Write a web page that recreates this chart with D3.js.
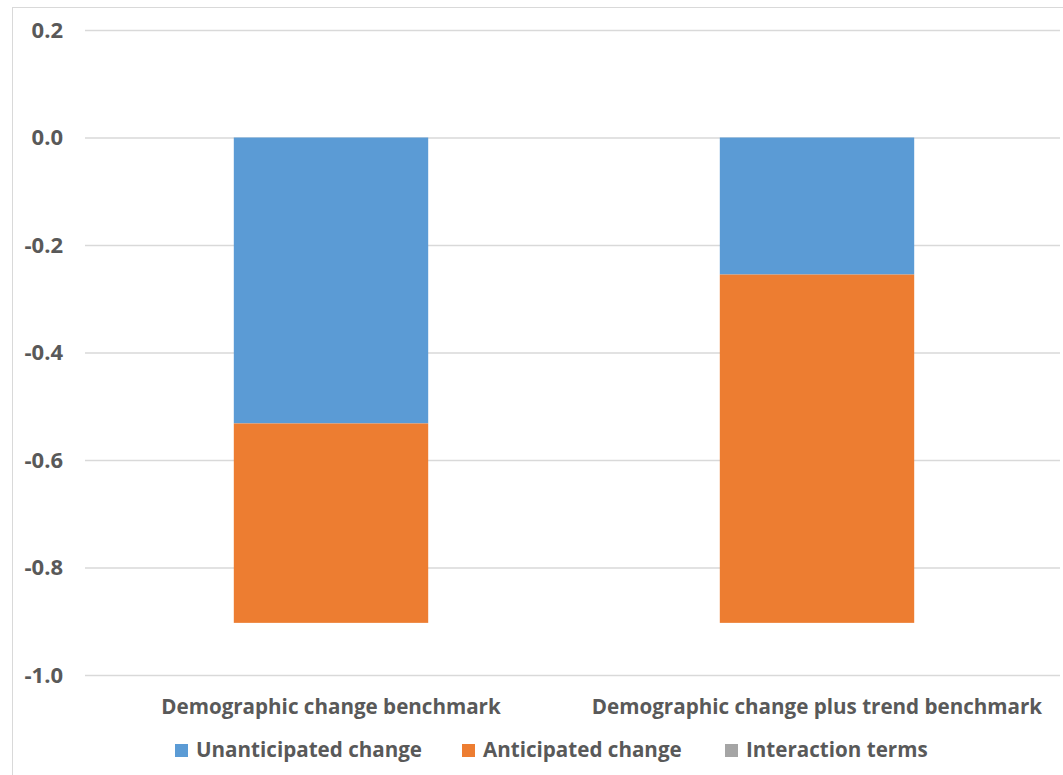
<!DOCTYPE html>
<html><head><meta charset="utf-8">
<script src="https://cdn.jsdelivr.net/npm/d3@7"></script>
<style>body{margin:0;background:#fff}</style>
</head><body>
<svg id="c" width="1063" height="775"></svg>
<script>
const categories = ["Demographic change benchmark", "Demographic change plus trend benchmark"];
const seriesNames = ["Unanticipated change", "Anticipated change", "Interaction terms"];
const unanticipated = [-0.532, -0.255];
const anticipated = [-0.371, -0.648];
const interaction = [0.0, 0.0];
const tickValues = [-1.0, -0.8, -0.6, -0.4, -0.2, 0.0, 0.2];
const colors = ["#5B9BD5", "#ED7D31", "#A5A5A5"];

const svg = d3.select("#c");
const font = "'Open Sans', sans-serif";
const fw = "bold";
const fs = "20.6px";
svg.append("rect").attr("x",12.5).attr("y",7.5).attr("width",1100).attr("height",900)
  .attr("fill","#fff").attr("stroke","#d9d9d9").attr("stroke-width",1);

const y = d3.scaleLinear().domain([-1, 0.2]).range([675, 30]);
const x = d3.scaleBand().domain(categories).range([88, 1060]).paddingInner(0.6).paddingOuter(0.3);

const yAxis = d3.axisLeft(y).tickValues(tickValues).tickSize(-(1060-85))
  .tickFormat(d => d3.format(".1f")(d).replace("\u2212","-"));
const ga = svg.append("g").attr("transform","translate(85,0)").call(yAxis);
ga.select(".domain").remove();
ga.selectAll(".tick line").attr("stroke","#d9d9d9").attr("stroke-width",1.5);
ga.selectAll(".tick text").attr("x",-22).attr("fill","#595959")
  .style("font-family",font).style("font-weight",fw).style("font-size","22px");

const data = categories.map((c,i)=>({cat:c, s0:unanticipated[i], s1:anticipated[i], s2:interaction[i]}));
const stack = d3.stack().keys(["s0","s1","s2"]).offset(d3.stackOffsetDiverging);
const layers = stack(data);
svg.append("g").selectAll("g").data(layers).join("g").attr("fill",(d,i)=>colors[i])
  .selectAll("rect").data(d=>d).join("rect")
  .attr("x",d=>x(d.data.cat)).attr("width",x.bandwidth())
  .attr("y",d=>y(Math.max(d[0],d[1]))).attr("height",d=>Math.abs(y(d[0])-y(d[1])));

const xAxis = d3.axisBottom(x).tickSize(0);
const gx = svg.append("g").attr("transform","translate(0,675)").call(xAxis);
gx.select(".domain").remove();
gx.selectAll(".tick text").attr("y",24).attr("fill","#595959")
  .style("font-family",font).style("font-weight",fw).style("font-size",fs);

const legX = [175, 462, 725];
const lg = svg.append("g");
seriesNames.forEach((n,i)=>{
  lg.append("rect").attr("x",legX[i]).attr("y",744).attr("width",13).attr("height",13).attr("fill",colors[i]);
  lg.append("text").attr("x",legX[i]+21).attr("y",757).text(n).attr("fill","#595959")
    .style("font-family",font).style("font-weight",fw).style("font-size",fs);
});
</script>
</body></html>
